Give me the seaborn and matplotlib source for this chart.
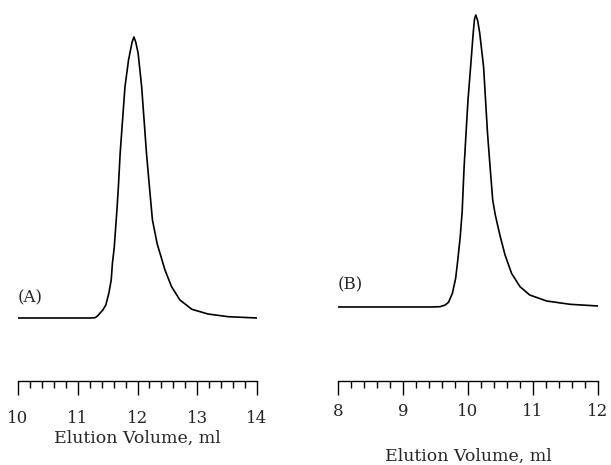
import matplotlib
matplotlib.use("Agg")
import matplotlib.pyplot as plt
from matplotlib.ticker import MultipleLocator
import pandas as pd
import seaborn as sns

sns.set_style("white")
plt.rcParams['font.family'] = ['DejaVu Serif']

# panel A: elution volume (ml) and detector signal (arbitrary units)
vol_a = [10.00, 10.70, 11.20, 11.29, 11.33, 11.37, 11.42, 11.47, 11.52, 11.56,
         11.58, 11.61, 11.64, 11.66, 11.68, 11.71, 11.75, 11.79, 11.85, 11.91,
         11.94, 11.97, 12.01, 12.07, 12.11, 12.15, 12.20, 12.25, 12.29, 12.33,
         12.38, 12.46, 12.57, 12.71, 12.91, 13.18, 13.52, 14.00]
sig_a = [0.00, 0.00, 0.00, 0.003, 0.02, 0.047, 0.08, 0.13, 0.247, 0.38,
         0.547, 0.70, 0.95, 1.12, 1.31, 1.65, 1.98, 2.31, 2.58, 2.76,
         2.81, 2.76, 2.65, 2.31, 1.98, 1.65, 1.31, 0.98, 0.86, 0.74,
         0.64, 0.48, 0.313, 0.18, 0.087, 0.04, 0.013, 0.00]

# panel B
vol_b = [8.00, 8.95, 9.42, 9.57, 9.65, 9.70, 9.76, 9.81, 9.84, 9.88,
         9.91, 9.94, 9.97, 10.00, 10.04, 10.08, 10.10, 10.12, 10.15, 10.18,
         10.24, 10.27, 10.30, 10.34, 10.38, 10.42, 10.49, 10.57, 10.67, 10.80,
         10.95, 11.21, 11.57, 12.00]
sig_b = [0.00, 0.00, 0.00, 0.003, 0.02, 0.047, 0.137, 0.287, 0.453, 0.70,
         0.95, 1.40, 1.74, 2.07, 2.40, 2.74, 2.88, 2.92, 2.86, 2.74,
         2.40, 2.07, 1.74, 1.40, 1.07, 0.92, 0.72, 0.52, 0.337, 0.203,
         0.12, 0.06, 0.027, 0.01]

df_a = pd.DataFrame({"volume": vol_a, "signal": sig_a})
df_b = pd.DataFrame({"volume": vol_b, "signal": sig_b})

fig = plt.figure(figsize=(6.11, 4.65), dpi=100)
ax_a = fig.add_axes([18 / 611, 84 / 465, 239 / 611, 371 / 465])
ax_b = fig.add_axes([338 / 611, 84 / 465, 260 / 611, 371 / 465])

panels = [
    (ax_a, df_a, "(A)", (10, 14), (-0.63, 3.08), 0.20, 11, 2),
    (ax_b, df_b, "(B)", (8, 12), (-0.74, 2.97), 0.22, 6, 20),
]
for ax, df, tag, xlim, ylim, tag_y, tpad, lpad in panels:
    sns.lineplot(data=df, x="volume", y="signal", ax=ax, color="black",
                 linewidth=1.2, estimator=None)
    ax.set_xlim(*xlim)
    ax.set_ylim(*ylim)
    sns.despine(ax=ax, left=True)
    ax.spines["bottom"].set_color("black")
    ax.spines["bottom"].set_linewidth(1.0)
    ax.set_yticks([])
    ax.set_ylabel("")
    ax.xaxis.set_major_locator(MultipleLocator(1))
    ax.xaxis.set_minor_locator(MultipleLocator(0.2))
    ax.tick_params(axis="x", which="major", direction="out", length=10,
                   width=1, color="black", labelsize=12, pad=tpad, bottom=True)
    ax.tick_params(axis="x", which="minor", direction="out", length=5,
                   width=1, color="black", bottom=True)
    ax.set_xlabel("Elution Volume, ml", fontsize=12.5, labelpad=lpad)
    ax.text(xlim[0], tag_y, tag, fontsize=12, ha="left", va="center")
    ax.patch.set_alpha(0)

fig.savefig("out.png", dpi=100)
